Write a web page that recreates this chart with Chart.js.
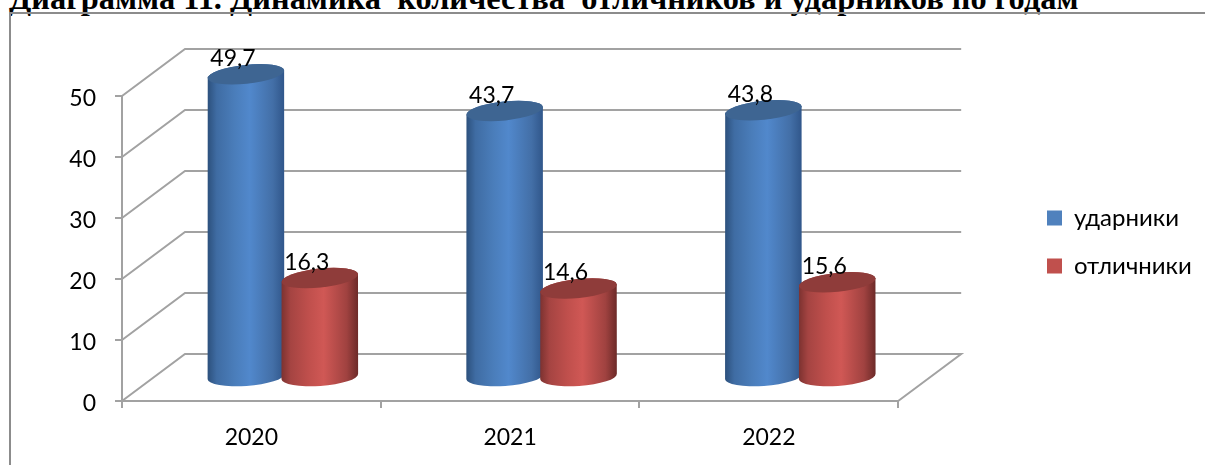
<!DOCTYPE html>
<html lang="ru">
<head>
  <meta charset="UTF-8" />
  <title>Диаграмма 11</title>
  <script src="https://cdn.jsdelivr.net/npm/chart.js"></script>
  <style>
    html, body { margin: 0; padding: 0; width: 1205px; height: 465px; overflow: hidden; background: #fff; }
    #wrap { position: relative; width: 1205px; height: 465px; overflow: hidden; }
    #title {
      position: absolute; left: 9px; top: -20px; white-space: pre;
      font: bold 32.4px 'Liberation Serif', serif; color: #000;
    }
    #frame {
      position: absolute; left: 9px; top: 12px; right: 0; bottom: 0;
      border-left: 2px solid #8c8c8c; border-top: 2px solid #8c8c8c;
    }
    canvas { position: absolute; left: 0; top: 0; }
  </style>
</head>
<body>
  <div id="wrap">
    <div id="title">Диаграмма 11. Динамика  количества  отличников и ударников по годам</div>
    <div id="frame"></div>
    <canvas id="grafik" width="1205" height="465"></canvas>
  </div>

  <script>
    const years = ['2020', '2021', '2022'];
    const udarniki = [49.7, 43.7, 43.8];
    const otlichniki = [16.3, 14.6, 15.6];
    const yTicks = [0, 10, 20, 30, 40, 50];

    const FONT = 'Lato';
    const GRID = '#a2a2a2';
    const DX = 63, DY = 47;   // depth of the 3d box

    const shades = [
      { stops: ['#2c507c', '#3f6ca3', '#4a7dba', '#5188cc', '#436fa7', '#30568a'], top: '#3e6592' },
      { stops: ['#7c3230', '#a54442', '#bf4f4c', '#d05855', '#a04240', '#6c2a28'], top: '#8f3c3a' }
    ];
    const gradPos = [0, 0.12, 0.35, 0.55, 0.85, 1];

    function drawWalls(chart) {
      const { ctx, scales: { x, y } } = chart;
      ctx.save();
      ctx.strokeStyle = GRID;
      ctx.lineWidth = 2;
      yTicks.forEach(v => {
        const py = y.getPixelForValue(v);
        ctx.beginPath();
        ctx.moveTo(x.left, py);
        ctx.lineTo(x.left + DX, py - DY);
        ctx.lineTo(x.right + DX, py - DY);
        if (v === 0) ctx.lineTo(x.right, py);
        ctx.stroke();
      });
      ctx.restore();
    }

    function drawCylinder(ctx, bar, shade) {
      const rx = bar.width * 0.52, ry = 9.5;
      const cx = bar.x + DX / 2, topY = bar.y - DY / 2, botY = bar.base - DY / 2;
      const g = ctx.createLinearGradient(cx - rx, 0, cx + rx, 0);
      shade.stops.forEach((c, i) => g.addColorStop(gradPos[i], c));
      ctx.fillStyle = g;
      ctx.beginPath();
      ctx.ellipse(cx, topY, rx, ry, -0.105, Math.PI, Math.PI * 2);
      ctx.ellipse(cx, botY, rx, ry, -0.07, 0, Math.PI);
      ctx.closePath();
      ctx.fill();
      ctx.fillStyle = shade.top;
      ctx.beginPath();
      ctx.ellipse(cx, topY, rx, ry, -0.105, 0, Math.PI * 2);
      ctx.fill();
    }

    const cylinders = {
      id: 'cylinders',
      afterLayout(chart) {
        // legend sits apart from the plot, like in the office chart
        const l = chart.legend, w = l.width, h = l.height;
        l.left = 1023; l.right = l.left + w;
        l.top = 182; l.bottom = l.top + h;
      },
      beforeDatasetsDraw(chart) {
        const ctx = chart.ctx;
        drawWalls(chart);
        ctx.save();
        years.forEach((_, j) => {
          chart.data.datasets.forEach((ds, i) => {
            drawCylinder(ctx, chart.getDatasetMeta(i).data[j], shades[i]);
          });
        });
        ctx.fillStyle = '#000';
        ctx.font = '23px ' + FONT;
        ctx.textAlign = 'center';
        ctx.textBaseline = 'middle';
        chart.data.datasets.forEach((ds, i) => {
          chart.getDatasetMeta(i).data.forEach((bar, j) => {
            ctx.fillText(String(ds.data[j]).replace('.', ','), bar.x + 18.5, bar.y - 39);
          });
        });
        ctx.restore();
        return false;
      }
    };

    new Chart(document.getElementById('grafik'), {
      type: 'bar',
      data: {
        labels: years,
        datasets: [
          { label: 'ударники', data: udarniki, backgroundColor: '#4f81bd', borderWidth: 0 },
          { label: 'отличники', data: otlichniki, backgroundColor: '#c0504d', borderWidth: 0 }
        ]
      },
      options: {
        responsive: false,
        animation: false,
        events: [],
        layout: { padding: { top: 96, right: 128, bottom: 0, left: 0 } },
        categoryPercentage: 0.571,
        barPercentage: 1,
        scales: {
          x: {
            afterFit: s => { s.height = 64; },
            grid: { drawOnChartArea: false, color: GRID, lineWidth: 2, tickLength: 7 },
            border: { color: GRID, width: 2 },
            ticks: { color: '#000', font: { family: FONT, size: 23 }, padding: 16, maxRotation: 0 }
          },
          y: {
            min: 0, max: 50,
            afterFit: s => { s.width = 122; },
            afterBuildTicks: s => { s.ticks = yTicks.map(v => ({ value: v })); },
            grid: { drawOnChartArea: false, color: GRID, lineWidth: 2, tickLength: 7 },
            border: { color: GRID, width: 2 },
            ticks: { color: '#000', font: { family: FONT, size: 23 }, padding: 19, labelOffset: 3 }
          }
        },
        plugins: {
          title: { display: false },
          tooltip: { enabled: false },
          legend: {
            position: 'right',
            align: 'start',
            labels: {
              color: '#000',
              font: { family: FONT, size: 24 },
              boxWidth: 15, boxHeight: 15,
              padding: 24
            }
          }
        }
      },
      plugins: [cylinders]
    });
  </script>
</body>
</html>
